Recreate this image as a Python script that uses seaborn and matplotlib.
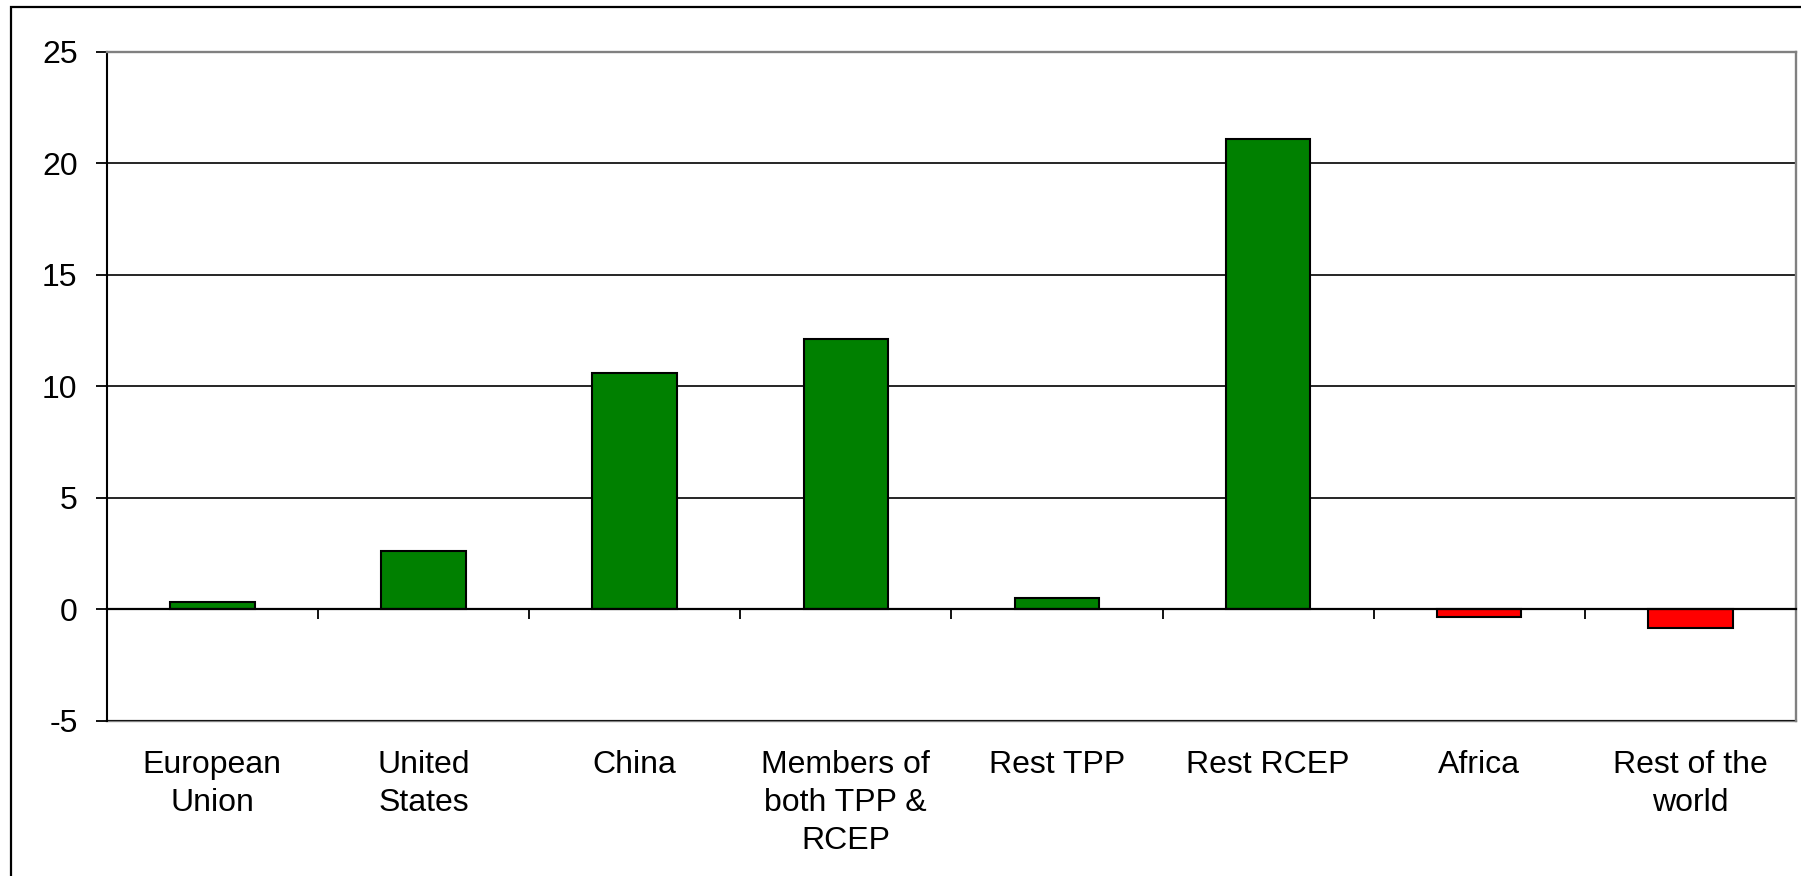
import matplotlib
matplotlib.use("Agg")
import matplotlib.pyplot as plt
import matplotlib.patches as mpatches
from matplotlib.ticker import FixedLocator
import seaborn as sns
import pandas as pd

# Data
regions = ["European\nUnion", "United\nStates", "China", "Members of\nboth TPP &\nRCEP",
           "Rest TPP", "Rest RCEP", "Africa", "Rest of the\nworld"]
values = [0.33, 2.62, 10.6, 12.1, 0.51, 21.1, -0.36, -0.85]
y_ticks = [-5, 0, 5, 10, 15, 20, 25]

sns.set_theme(style="white")
plt.rcParams["font.family"] = ["Liberation Sans", "DejaVu Sans"]
plt.rcParams["text.color"] = "black"
plt.rcParams["xtick.color"] = "black"
plt.rcParams["ytick.color"] = "black"
plt.rcParams["xtick.labelcolor"] = "black"
plt.rcParams["ytick.labelcolor"] = "black"

df = pd.DataFrame({"region": regions, "value": values})
palette = {r: ("#008000" if v >= 0 else "#FF0000") for r, v in zip(regions, values)}

W, H = 1801, 876
LABEL_SIZE = 23
fig = plt.figure(figsize=(W / 100, H / 100), dpi=100)
ax = fig.add_axes([106.7 / W, 1 - 721 / H, (1796 - 106.7) / W, (721 - 51.7) / H])

sns.barplot(data=df, x="region", y="value", hue="region", palette=palette,
            legend=False, width=0.40, edgecolor="black", linewidth=1.5,
            saturation=1, ax=ax, zorder=3)

n = len(regions)
ax.set_xlim(-0.5, n - 0.5)
ax.set_ylim(-5, 25)
ax.set_xlabel("")
ax.set_ylabel("")

# Horizontal gridlines
ax.set_yticks(y_ticks)
ax.set_yticklabels([str(t) for t in y_ticks])
ax.yaxis.grid(True, color="black", linewidth=1.2, zorder=0)
ax.xaxis.grid(False)
ax.set_axisbelow(True)

# Frame: black left axis, grey top/right
for side in ["top", "right"]:
    ax.spines[side].set_color("#808080")
    ax.spines[side].set_linewidth(1.7)
ax.spines["left"].set_color("black")
ax.spines["left"].set_linewidth(1.5)

# Category axis at zero with boundary ticks
ax.spines["bottom"].set_position(("data", 0))
ax.spines["bottom"].set_color("black")
ax.spines["bottom"].set_linewidth(1.6)
ax.spines["bottom"].set_zorder(4)
ax.xaxis.set_minor_locator(FixedLocator([i + 0.5 for i in range(n)]))
ax.tick_params(axis="x", which="minor", direction="out", length=7, width=1.3,
               color="black", bottom=True)
ax.tick_params(axis="x", which="major", length=0, labelbottom=False)

# Category labels along the bottom of the plot area
sec = ax.secondary_xaxis("bottom")
sec.set_xticks(range(n))
sec.set_xticklabels(regions, fontsize=LABEL_SIZE, linespacing=1.35, color="black")
sec.tick_params(axis="x", length=0, pad=21)
sec.spines["bottom"].set_color("#808080")
sec.spines["bottom"].set_linewidth(1.7)

ax.tick_params(axis="y", direction="out", length=8, width=1.3, color="black",
               left=True, labelsize=LABEL_SIZE, labelcolor="black", pad=13)

# Outer chart border
fig.patches.append(mpatches.Rectangle((11 / W, -0.2), 1.5, 1 - 7 / H + 0.2,
                                      transform=fig.transFigure, fill=False,
                                      edgecolor="black", linewidth=1.6))

fig.savefig("out.png", dpi=100)
